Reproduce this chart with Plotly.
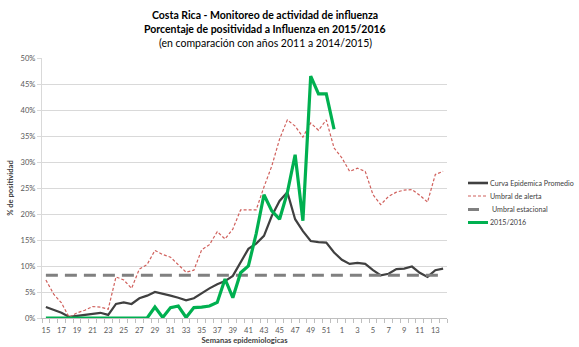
import plotly.graph_objects as go

# Epidemiological weeks: 15-52 of the first year, then 1-14 of the next
semanas = [str(w) for w in [15, 16, 17, 18, 19, 20, 21, 22, 23, 24, 25, 26, 27, 28, 29, 30,
                            31, 32, 33, 34, 35, 36, 37, 38, 39, 40, 41, 42, 43, 44, 45, 46,
                            47, 48, 49, 50, 51, 52, 1, 2, 3, 4, 5, 6, 7, 8, 9, 10, 11, 12, 13, 14]]

curva_promedio = [2.1, 1.5, 1.0, 0.2, 0.4, 0.7, 0.9, 1.0, 0.6, 2.7, 3.0, 2.7, 3.8, 4.3, 5.0, 4.7,
                  4.3, 3.9, 3.4, 3.8, 4.8, 5.7, 6.5, 7.1, 8.1, 10.6, 13.3, 14.3, 15.8, 19.6, 22.5, 24.2,
                  19.0, 16.7, 14.8, 14.6, 14.5, 12.6, 11.2, 10.4, 10.6, 10.4, 9.2, 8.2, 8.5, 9.4,
                  9.5, 9.9, 8.7, 7.9, 9.2, 9.5]

umbral_alerta = [7.3, 4.6, 2.9, 0.1, 1.0, 1.5, 2.2, 2.1, 1.7, 7.9, 7.3, 5.7, 9.4, 10.3, 13.0, 12.2,
                 11.7, 10.3, 8.8, 9.2, 13.1, 14.1, 16.6, 15.2, 17.1, 20.8, 20.8, 20.8, 25.2, 29.2, 34.4, 38.1,
                 36.9, 34.8, 37.5, 36.1, 38.1, 32.7, 30.8, 28.2, 28.8, 28.2, 23.7, 21.8, 23.4, 24.2,
                 24.6, 24.7, 23.6, 22.3, 27.6, 28.2]

umbral_estacional = 8.2

temporada_2015_2016 = [0, 0, 0, 0, 0, 0, 0, 0, 0, 0, 0, 0, 0, 0, 2.1, 0.1,
                       2.0, 2.3, 0.1, 2.0, 2.1, 2.3, 3.0, 7.5, 3.9, 8.7, 10.0, 16.2, 23.7, 20.6, 19.0, 24.1,
                       31.4, 18.7, 46.5, 43.1, 43.1, 36.3]

y_ticks = [0, 5, 10, 15, 20, 25, 30, 35, 40, 45, 50]

FONT = "Lato"
W, H = 579, 347
ML, MR, MT, MB = 42, 132, 58, 29
PW, PH = W - ML - MR, H - MT - MB


def px_x(px):
    return (px - ML) / PW


def px_y(py):
    return (H - MB - py) / PH


idx = list(range(len(semanas)))

series = [
    dict(name="Curva Epidemica Promedio", y=curva_promedio,
         line=dict(color="#404040", width=2.2), swatch=(468, 488, 2.6, "solid")),
    dict(name="Umbral de alerta", y=umbral_alerta,
         line=dict(color="#d0605c", width=1.2, dash="3px,2px"), swatch=(468, 488, 1.2, "3px,2px")),
    dict(name="Umbral estacional", y=[umbral_estacional] * len(semanas),
         line=dict(color="#808080", width=3, dash="12px,7px"), swatch=(468, 479, 3, "solid")),
    dict(name="2015/2016", y=temporada_2015_2016,
         line=dict(color="#00b050", width=3.2), swatch=(468, 488, 3, "solid")),
]

fig = go.Figure()
for s in series:
    fig.add_trace(go.Scatter(x=idx[:len(s["y"])], y=s["y"], mode="lines",
                             name=s["name"], line=s["line"]))

# Legend block to the right of the plot
leyenda_y = [183, 196, 209.5, 222.5]
for s, ly in zip(series, leyenda_y):
    x0, x1, lw, dash = s["swatch"]
    fig.add_shape(type="line", xref="paper", yref="paper",
                  x0=px_x(x0), x1=px_x(x1), y0=px_y(ly), y1=px_y(ly),
                  line=dict(color=s["line"]["color"], width=lw, dash=dash))
    fig.add_annotation(text=s["name"], xref="paper", yref="paper",
                       x=px_x(488 if s["name"] != "Umbral estacional" else 490), y=px_y(ly),
                       xanchor="left", yanchor="middle", showarrow=False,
                       font=dict(family=FONT, size=7.1, color="#404040"))

fig.update_layout(
    width=W, height=H,
    margin=dict(l=ML, r=MR, t=MT, b=MB),
    plot_bgcolor="white", paper_bgcolor="white",
    font=dict(family=FONT, size=8, color="#595959"),
    showlegend=False,
)

fig.update_xaxes(
    range=[-0.5, len(semanas) - 0.5], automargin=False,
    tickmode="array", tickvals=idx[::2], ticktext=semanas[::2],
    ticks="", showgrid=False, zeroline=False,
    showline=True, linecolor="#bfbfbf", linewidth=1,
    tickfont=dict(family=FONT, size=7.6, color="#595959"),
    ticklabelstandoff=5,
    minor=dict(tickmode="array", tickvals=[i - 0.5 for i in range(len(semanas) + 1)],
               ticks="outside", ticklen=4, tickcolor="#bfbfbf", tickwidth=1, showgrid=False),
    title=dict(text="<b>Semanas epidemiologicas</b>", standoff=3,
               font=dict(family=FONT, size=7.6, color="#404040")),
)
fig.update_yaxes(
    range=[0, 50], automargin=False, tickmode="array", tickvals=y_ticks,
    ticktext=[f"{v}%" for v in y_ticks],
    showgrid=True, gridcolor="#d9d9d9", gridwidth=1, zeroline=False,
    showline=True, linecolor="#d9d9d9", linewidth=1,
    ticks="outside", ticklen=4, tickcolor="#d9d9d9",
    tickfont=dict(family=FONT, size=7.6, color="#595959"),
    title=dict(text="<b>% de positividad</b>", standoff=5,
               font=dict(family=FONT, size=7.6, color="#404040")),
)

titulos = [
    ("<b>Costa Rica - Monitoreo de actividad de influenza</b>", 15),
    ("<b>Porcentaje de positividad a Influenza en 2015/2016</b>", 29),
    ("(en comparación con años 2011 a 2014/2015)", 43),
]
for texto, ypix in titulos:
    fig.add_annotation(text=texto, xref="paper", yref="paper",
                       x=px_x(265), y=px_y(ypix),
                       xanchor="center", yanchor="middle", showarrow=False,
                       font=dict(family=FONT, size=10.5, color="#000000"))

fig.write_html("out.html")
